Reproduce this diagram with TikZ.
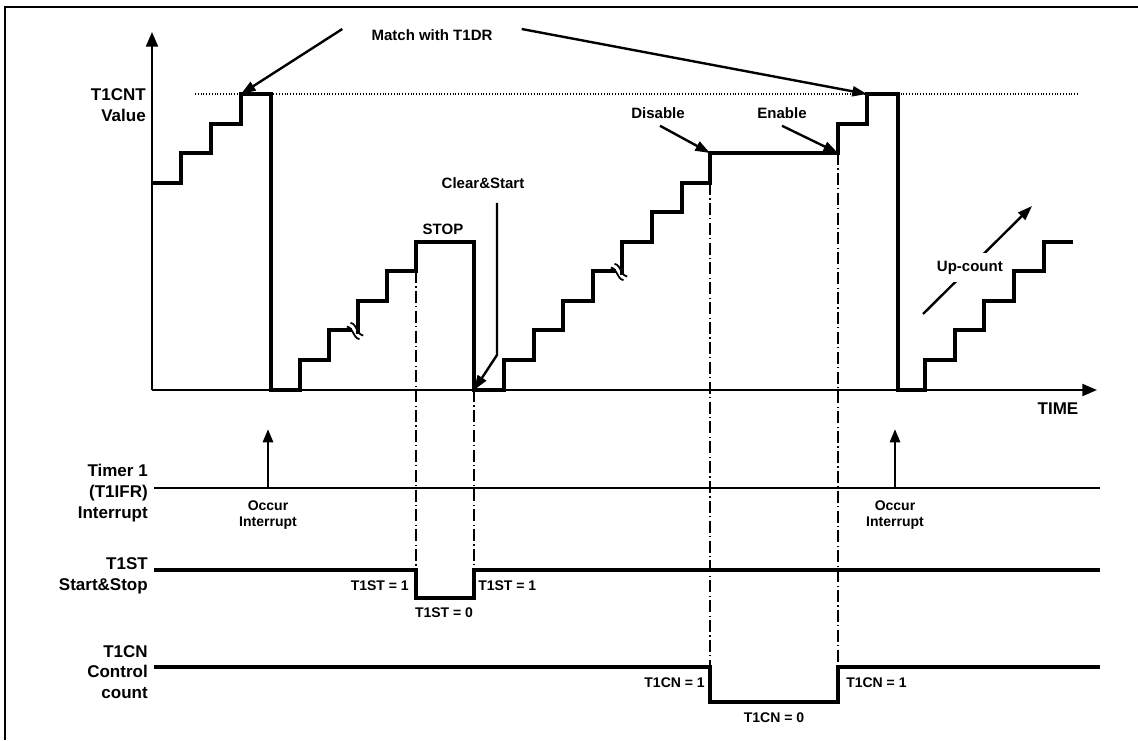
\documentclass[tikz,border=0pt]{standalone}
\usepackage{fontspec}
\setmainfont{Liberation Sans}
\usepackage{xcolor}
\definecolor{cInk}{HTML}{000000}
\usepackage{tikz}
\usetikzlibrary{positioning,arrows.meta,calc}
\tikzset{
  node-label/.style={font=\fontsize{12.75}{15.5}\selectfont\bfseries,align=right,inner sep=0pt},
  node-note/.style={font=\fontsize{11.25}{13.5}\selectfont\bfseries,inner sep=0pt},
  node-value/.style={font=\fontsize{10.5}{12.5}\selectfont\bfseries,inner sep=0pt,align=center},
  line-count/.style={draw=cInk,line width=2.7pt},
  line-axis/.style={draw=cInk,line width=1.6pt,-{Triangle[length=11pt,width=9pt]}},
  line-signal/.style={draw=cInk,line width=2.4pt},
  line-irq/.style={draw=cInk,line width=1.3pt},
  line-guide/.style={draw=cInk,line width=0.9pt,dash pattern=on 9pt off 2.5pt on 0.9pt off 2.5pt},
  line-level/.style={draw=cInk,line width=0.8pt,dash pattern=on 0.8pt off 1.3pt},
  arrow-note/.style={draw=cInk,line width=1.8pt,-{Triangle[length=11pt,width=7.5pt]}},
  arrow-irq/.style={draw=cInk,line width=2.2pt,-{Triangle[length=10pt,width=7.5pt]}},
  % break mark on a count step
  cnt-break/.pic={
    \draw[cInk,line width=1.3pt] (-4.5,-8.2) .. controls (2.7,-6.5) and (0.9,2.9) .. (8.2,4.5);
    \draw[cInk,line width=1.3pt] (-8.2,-4.5) .. controls (-0.9,-2.9) and (-2.7,6.5) .. (4.5,8.2);
  },
}

\begin{document}
\begin{tikzpicture}[x=0.75pt,y=-0.75pt]
  \useasboundingbox (0,0) rectangle (1138,740);
  \draw[cInk,line width=1.6pt] (5,740) -- (5,7) -- (1138,7);

  % axes and match level
  \coordinate (org) at (152,390);
  \draw[line-axis] (org) -- (152,32);
  \draw[line-axis] (org) -- (1097,390);
  \draw[line-level] (195,94) -- (1078,94);

  \coordinate (hit1) at (241,94);
  \coordinate (hit2) at (867,94);
  \coordinate (clr-pt) at (474,390);
  \coordinate (clr-bend) at (497,355);
  \coordinate (dis-pt) at (710,153);
  \coordinate (en-pt) at (838,153);
  \coordinate (up-a) at (923,314);
  \coordinate (up-b) at (1032,206);

  \draw[arrow-note] (up-a) -- node[node-note,pos=0.43,fill=white,inner ysep=6pt,inner xsep=1pt] (up) {Up-count} (up-b);

  % T1CNT steps
  \draw[line-count] (152,183) -| (181,153) -| (211,124) -| (241,94) -| (271,390)
    -| (300,360) -| (329,330) -- (352,330);
  \draw[line-count] (358,334) -- (358,301) -| (387,271) -| (416,242) -| (474,390)
    -| (504,360) -| (534,330) -| (563,301) -| (593,271) -- (616,271);
  \draw[line-count] (622,275) -- (622,242) -| (652,212) -| (682,183) -| (710,153)
    -| (838,124) -| (867,94) -| (898,390) -| (925,360) -| (955,330)
    -| (984,301) -| (1014,271) -| (1044,242) -- (1073,242);
  \pic at (355,331) {cnt-break};
  \pic at (619,272) {cnt-break};

  \node[node-note] (match) at (432,35) {Match with T1DR};
  \draw[arrow-note] ($(match.west)+(-29,-6)$) -- (hit1);
  \draw[arrow-note] ($(match.east)+(29,-6)$) -- (hit2);
  \node[node-note] (stop) at (443,229) {STOP};
  \node[node-note] (clr) at (483,183) {Clear\&Start};
  \draw[arrow-note] ($(clr.south)+(14,14)$) -- (clr-bend) -- (clr-pt);
  \node[node-note] (dis) at (658,113) {Disable};
  \draw[arrow-note] ($(dis.south)+(2,7)$) -- (dis-pt);
  \node[node-note] (en) at (782,113) {Enable};
  \draw[arrow-note] ($(en.south)+(0,7)$) -- (en-pt);
  \node[node-label] (time) at (1058,409) {TIME};

  % guides
  \draw[line-guide] (416,271) -- (416,570);
  \draw[line-guide] (474,390) -- (474,570);
  \draw[line-guide] (710,183) -- (710,667);
  \draw[line-guide] (838,153) -- (838,667);

  % interrupt
  \coordinate (irq1) at (268,488);
  \coordinate (irq2) at (895,488);
  \draw[line-irq] (154,488) -- (1100,488);
  \draw[arrow-irq] (irq1) -- ++(0,-59);
  \draw[arrow-irq] (irq2) -- ++(0,-59);
  \node[node-value] (occ1) at (268,515) {Occur\\Interrupt};
  \node[node-value] (occ2) at (895,515) {Occur\\Interrupt};

  % T1ST and T1CN
  \draw[line-signal] (154,570) -| (416,598) -| (474,570) -- (1100,570);
  \draw[line-signal] (154,667) -| (710,702) -| (838,667) -- (1100,667);
  \node[node-value,anchor=east] (st1a) at (409,586) {T1ST = 1};
  \node[node-value,anchor=west] (st1b) at (478,586) {T1ST = 1};
  \node[node-value] (st0) at (444,613) {T1ST = 0};
  \node[node-value,anchor=east] (cn1a) at (705,683) {T1CN = 1};
  \node[node-value,anchor=west] (cn1b) at (846,683) {T1CN = 1};
  \node[node-value] (cn0) at (774,718) {T1CN = 0};

  % row labels
  \node[node-label,anchor=east] (cnt-lbl) at (146,105) {T1CNT\\Value};
  \node[node-label,anchor=east] (irq-lbl) at (148,493) {Timer 1\\(T1IFR)\\Interrupt};
  \node[node-label,anchor=east] (st-lbl) at (148,576) {T1ST\\Start\&Stop};
  \node[node-label,anchor=east] (cn-lbl) at (148,672) {T1CN\\Control\\count};
\end{tikzpicture}
\end{document}
